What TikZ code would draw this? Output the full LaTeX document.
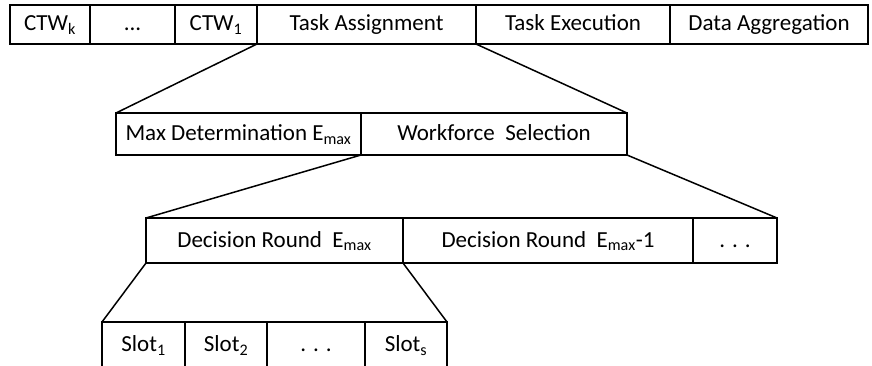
\documentclass[tikz,border=0pt]{standalone}
\usepackage{fontspec}
\setmainfont{Carlito}
\usepackage{tikz}
\usetikzlibrary{positioning}

\tikzset{
  cell/.style={draw, line width=1.5pt, anchor=north west, inner sep=0pt, outer sep=0pt,
    text height=17pt, text depth=4pt, font=\fontsize{23}{27}\selectfont},
  link/.style={line width=1.5pt}
}

\begin{document}
\begin{tikzpicture}[x=1pt,y=-1pt]
            \useasboundingbox (0,0) rectangle (872,366);
            % top level: frame
            \node[cell, minimum width=80pt, minimum height=39pt] at (10,5) (ctwk) {CTW\textsubscript{k}};
            \node[cell, minimum width=85pt, minimum height=39pt] at (90,5) (ctwdots) {...};
            \node[cell, minimum width=82pt, minimum height=39pt] at (175,5) (ctw1) {CTW\textsubscript{1}};
            \node[cell, minimum width=219pt, minimum height=39pt] at (257,5) (assign) {Task Assignment};
            \node[cell, minimum width=194pt, minimum height=39pt] at (476,5) (exec) {Task Execution};
            \node[cell, minimum width=198pt, minimum height=39pt] at (670,5) (aggr) {Data Aggregation};
            % task assignment
            \node[cell, minimum width=245pt, minimum height=42pt] at (116,113) (maxdet) {Max Determination E\textsubscript{max}};
            \node[cell, minimum width=266pt, minimum height=42pt] at (361,113) (workforce) {Workforce\ \ Selection};
            % workforce selection
            \node[cell, minimum width=257pt, minimum height=45pt] at (146,218) (round1) {Decision Round\ \ E\textsubscript{max}};
            \node[cell, minimum width=290pt, minimum height=45pt] at (403,218) (round2) {Decision Round\ \ E\textsubscript{max}-1};
            \node[cell, minimum width=84pt, minimum height=45pt] at (693,218) (rounddots) {. . .};
            % slots
            \node[cell, minimum width=83pt, minimum height=46pt] at (102,322) (slot1) {Slot\textsubscript{1}};
            \node[cell, minimum width=82pt, minimum height=46pt] at (185,322) (slot2) {Slot\textsubscript{2}};
            \node[cell, minimum width=98pt, minimum height=46pt] at (267,322) (slotdots) {. . .};
            \node[cell, minimum width=82pt, minimum height=46pt] at (365,322) (slots) {Slot\textsubscript{s}};
            \draw[link] (assign.south west) -- (maxdet.north west);
            \draw[link] (assign.south east) -- (workforce.north east);
            \draw[link] (workforce.south west) -- (round1.north west);
            \draw[link] (workforce.south east) -- (rounddots.north east);
            \draw[link] (round1.south west) -- (slot1.north west);
            \draw[link] (round1.south east) -- (slots.north east);
        \end{tikzpicture}
\end{document}
